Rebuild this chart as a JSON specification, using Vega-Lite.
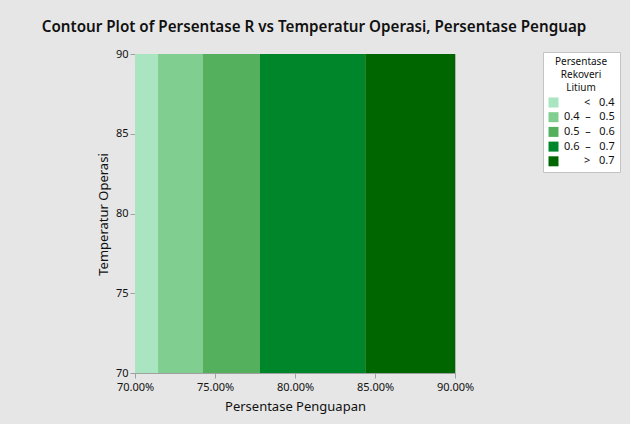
{
  "$schema": "https://vega.github.io/schema/vega-lite/v6.json",
  "autosize": "none",
  "width": 320,
  "height": 319,
  "padding": {"left": 135, "top": 54, "right": 175, "bottom": 51},
  "background": "#e6e6e6",
  "title": {
    "text": "Contour Plot of Persentase R vs Temperatur Operasi, Persentase Penguap",
    "anchor": "middle",
    "frame": "group",
    "dx": 19,
    "offset": 13,
    "font": "Noto Sans",
    "fontSize": 15.2,
    "fontWeight": 600,
    "color": "#111111"
  },
  "data": {
    "values": [
      {"lo": 0.70, "hi": 0.7144, "tlo": 70, "thi": 90, "level": "< 0.4"},
      {"lo": 0.7144, "hi": 0.7423, "tlo": 70, "thi": 90, "level": "0.4 – 0.5"},
      {"lo": 0.7423, "hi": 0.7781, "tlo": 70, "thi": 90, "level": "0.5 – 0.6"},
      {"lo": 0.7781, "hi": 0.8439, "tlo": 70, "thi": 90, "level": "0.6 – 0.7"},
      {"lo": 0.8439, "hi": 0.90, "tlo": 70, "thi": 90, "level": "> 0.7"}
    ]
  },
  "mark": {"type": "rect"},
  "encoding": {
    "x": {
      "field": "lo", "type": "quantitative",
      "scale": {"domain": [0.7, 0.9], "nice": false, "zero": false},
      "axis": {
        "title": "Persentase Penguapan",
        "values": [0.7, 0.75, 0.8, 0.85, 0.9],
        "format": ".2%",
        "grid": false,
        "labelPadding": 3,
        "titleY": 33, "titleBaseline": "middle"
      }
    },
    "x2": {"field": "hi"},
    "y": {
      "field": "tlo", "type": "quantitative",
      "scale": {"domain": [70, 90], "nice": false, "zero": false},
      "axis": {
        "title": "Temperatur Operasi",
        "values": [70, 75, 80, 85, 90],
        "grid": false,
        "titleX": -32, "titleY": 160, "titleBaseline": "middle"
      }
    },
    "y2": {"field": "thi"},
    "color": {
      "field": "level", "type": "nominal",
      "scale": {
        "domain": ["< 0.4", "0.4 – 0.5", "0.5 – 0.6", "0.6 – 0.7", "> 0.7"],
        "range": ["#a8e5c0", "#80cf90", "#55b05e", "#00862a", "#006700"]
      },
      "legend": {
        "title": ["Persentase", "Rekoveri", "Litium"],
        "orient": "none",
        "legendX": 408,
        "legendY": -2,
        "padding": 5,
        "fillColor": "#ffffff",
        "strokeColor": "#c4c4c4",
        "titleFont": "Noto Sans",
        "titleFontSize": 10,
        "titleFontWeight": "normal",
        "titleColor": "#111111",
        "titleAlign": "center",
        "titleAnchor": "middle",
        "titleLineHeight": 13,
        "titlePadding": 4,
        "labelFont": "Noto Sans",
        "labelFontSize": 11,
        "labelColor": "#111111",
        "labelOffset": 5,
        "symbolType": "square",
        "symbolSize": 100,
        "symbolStrokeWidth": 0,
        "rowPadding": 2.7,
        "labelExpr": "datum.label == '< 0.4' ? '\u200b\u00a0\u00a0\u00a0\u00a0\u00a0\u00a0\u00a0<\u00a0\u00a0\u00a00.4' : datum.label == '> 0.7' ? '\u200b\u00a0\u00a0\u00a0\u00a0\u00a0\u00a0\u00a0>\u00a0\u00a0\u00a00.7' : replace(datum.label, ' – ', '\u00a0\u00a0–\u00a0\u00a0\u00a0')"
      }
    }
  },
  "config": {
    "view": {"stroke": "#b0b0b0", "strokeWidth": 1},
    "axis": {
      "labelFont": "Noto Sans",
      "labelFontSize": 11,
      "labelColor": "#111111",
      "labelFlush": false,
      "titleFont": "Noto Sans",
      "titleFontSize": 13,
      "titleFontWeight": "normal",
      "titleColor": "#111111",
      "domainColor": "#a0a0a0",
      "tickColor": "#a0a0a0",
      "tickSize": 5,
      "labelPadding": 2
    }
  }
}
